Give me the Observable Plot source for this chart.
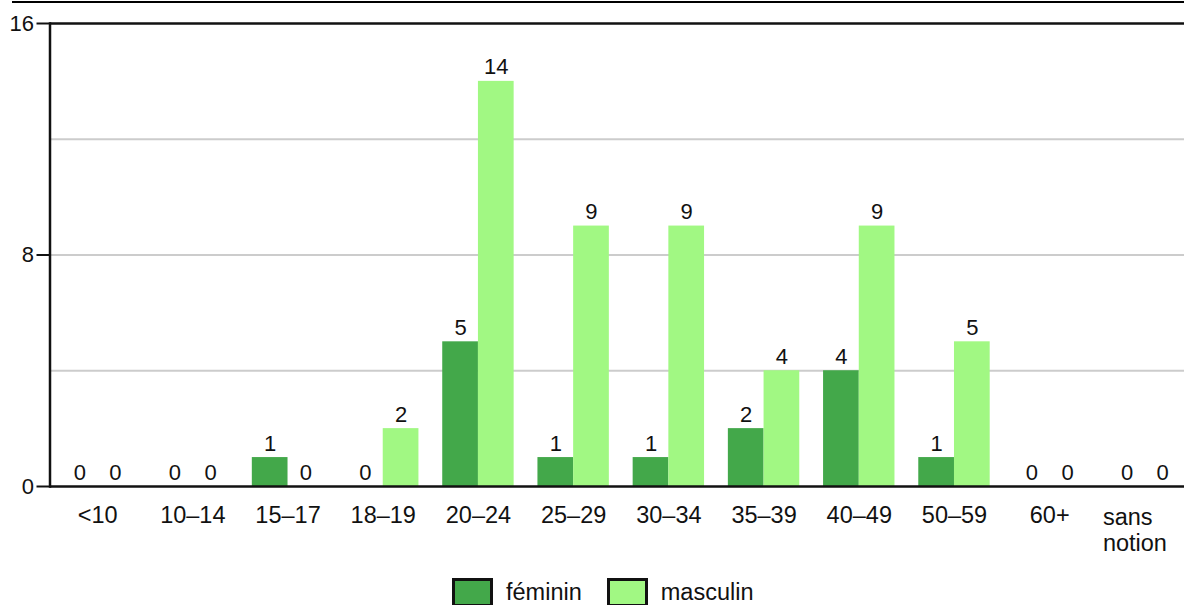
<!DOCTYPE html>
<html>
<head>
<meta charset="utf-8">
<script src="https://cdn.jsdelivr.net/npm/d3@7"></script>
<script src="https://cdn.jsdelivr.net/npm/@observablehq/plot@0.6"></script>
<style>
  html, body { margin: 0; padding: 0; background: #fff; overflow: hidden; }
  #wrap { position: relative; width: 1184px; height: 605px; overflow: hidden; font-family: "Liberation Sans", Arial, sans-serif; }
  #topline { position: absolute; left: 12px; right: 0; top: 1px; height: 0; border-top: 2px solid #000; z-index: 2; }
  #chart svg { max-width: none !important; display: block; }
  #legend { display: flex; align-items: center; margin-top: 13px; padding-left: 452px; font-size: 23.5px; line-height: 1; color: #111; }
  .sw { width: 35px; height: 23px; border: 3px solid #111; margin-right: 13px; }
  .item { display: flex; align-items: center; margin-right: 25px; }
</style>
</head>
<body>
<div id="wrap">
  <div id="topline"></div>
  <div id="chart"></div>
  <div id="legend"></div>
</div>
<script>
const categories = ["<10", "10–14", "15–17", "18–19", "20–24", "25–29", "30–34", "35–39", "40–49", "50–59", "60+", "sans notion"];
const feminin  = [0, 0, 1, 0, 5, 1, 1, 2, 4, 1, 0, 0];
const masculin = [0, 0, 0, 2, 14, 9, 9, 4, 9, 5, 0, 0];
const seriesNames = ["féminin", "masculin"];
const seriesColors = ["#43a84a", "#a1f883"];
const yTicks = [0, 8, 16];
const gridValues = [4, 8, 12];

const W = 1192, ML = 49.5, MR = 0;
const step = (W - ML - MR) / categories.length;
const half = step * 0.75 / 2;

const fem = categories.map((c, i) => ({cat: c, v: feminin[i]}));
const mas = categories.map((c, i) => ({cat: c, v: masculin[i]}));
const labelCats = categories.filter(c => c !== "sans notion");
const lastCat = categories.filter(c => c === "sans notion");

const chart = Plot.plot({
  width: W,
  height: 565,
  marginLeft: ML,
  marginRight: MR,
  marginTop: 23,
  marginBottom: 79,
  style: {fontFamily: '"Liberation Sans", Arial, sans-serif', fontSize: "22px", color: "#111", background: "transparent", maxWidth: "none"},
  x: {domain: categories, paddingInner: 0.25, paddingOuter: 0.125, round: false, axis: null},
  y: {domain: [0, 16], axis: null, label: null},
  marks: [
    Plot.ruleY(gridValues, {stroke: "#cccccc", strokeWidth: 2}),
    Plot.barY(fem, {x: "cat", y: "v", fill: seriesColors[0], insetRight: half}),
    Plot.barY(mas, {x: "cat", y: "v", fill: seriesColors[1], insetLeft: half}),
    Plot.text(fem, {x: "cat", y: "v", text: d => String(d.v), dx: -half / 2, dy: -7, lineAnchor: "bottom", fontSize: 22, fill: "#111"}),
    Plot.text(mas, {x: "cat", y: "v", text: d => String(d.v), dx: half / 2, dy: -7, lineAnchor: "bottom", fontSize: 22, fill: "#111"}),
    Plot.ruleY([16], {stroke: "#111", strokeWidth: 2.5}),
    Plot.ruleY([0], {stroke: "#111", strokeWidth: 2.5}),
    Plot.frame({anchor: "left", stroke: "#111", strokeWidth: 2.5}),
    Plot.axisY({ticks: yTicks, tickSize: 13, tickPadding: 3, label: null, fontSize: 22, stroke: "#111", strokeWidth: 2, fill: "#111"}),
    Plot.text(labelCats, {x: d => d, frameAnchor: "bottom", lineAnchor: "top", dy: 20, fontSize: 23.5, fill: "#111"}),
    Plot.text(lastCat, {x: d => d, text: d => d.replace(" ", "\n"), frameAnchor: "bottom", lineAnchor: "top", dy: 20, textAnchor: "start", dx: -42, lineHeight: 1.1, fontSize: 23.5, fill: "#111"})
  ]
});
document.getElementById("chart").appendChild(chart);

const legend = document.getElementById("legend");
seriesNames.forEach((n, i) => {
  const it = document.createElement("div");
  it.className = "item";
  const sw = document.createElement("div");
  sw.className = "sw";
  sw.style.background = seriesColors[i];
  const t = document.createElement("span");
  t.textContent = n;
  it.appendChild(sw); it.appendChild(t);
  legend.appendChild(it);
});
</script>
</body>
</html>
